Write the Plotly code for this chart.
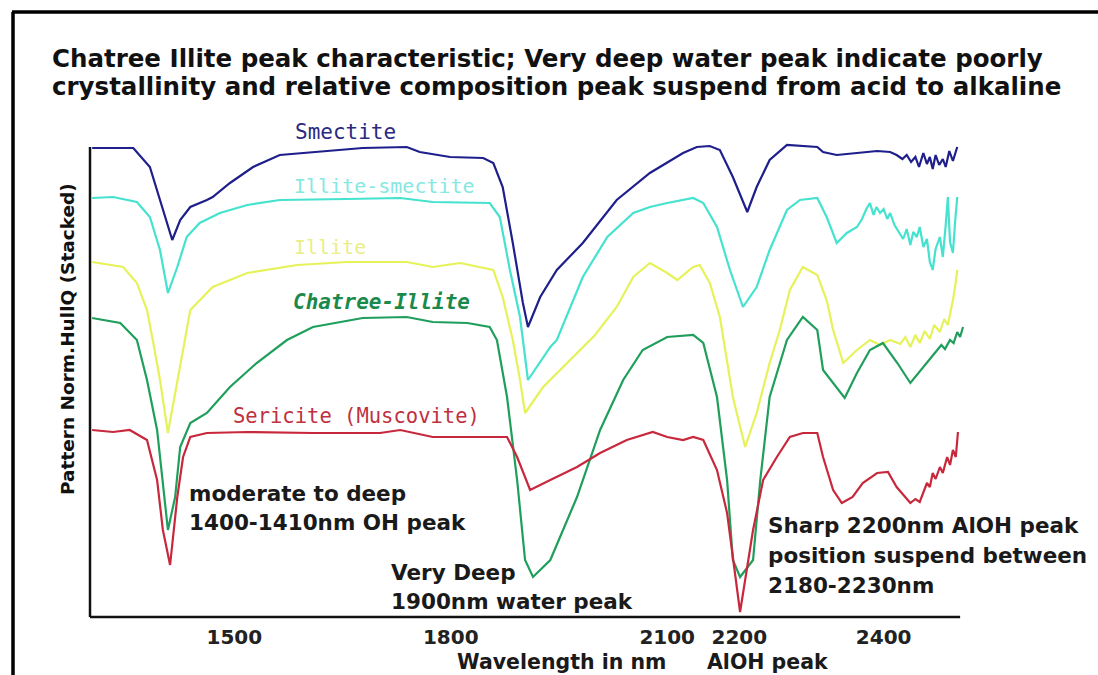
import plotly.graph_objects as go

# ---- spectra (wavelength in nm, stacked hull-quotient values) ----
smectite_wl = [1303, 1360, 1383, 1397, 1414, 1425, 1439, 1462, 1470, 1494, 1526, 1563, 1609, 1678,
               1739, 1757, 1799, 1845, 1859, 1872, 1886, 1900, 1907, 1924, 1947, 1983, 2030, 2076,
               2122, 2141, 2159, 2173, 2191, 2211, 2224, 2242, 2266, 2284, 2308, 2316, 2335, 2363,
               2391, 2409, 2418, 2426, 2432, 2438, 2444, 2449, 2455, 2460, 2464, 2468, 2472, 2477,
               2482, 2486, 2491, 2496, 2502]
smectite_val = [4.69, 4.69, 4.50, 4.17, 3.77, 3.97, 4.10, 4.17, 4.20, 4.34, 4.50, 4.62, 4.65, 4.69,
                4.70, 4.65, 4.60, 4.59, 4.54, 4.30, 3.74, 3.14, 2.90, 3.20, 3.47, 3.74, 4.17, 4.44,
                4.64, 4.70, 4.71, 4.67, 4.40, 4.05, 4.30, 4.57, 4.72, 4.71, 4.70, 4.65, 4.62, 4.64,
                4.66, 4.65, 4.62, 4.58, 4.62, 4.55, 4.60, 4.50, 4.64, 4.53, 4.60, 4.48, 4.62, 4.52,
                4.58, 4.50, 4.66, 4.56, 4.70]

illite_smectite_wl = [1303, 1332, 1365, 1383, 1397, 1408, 1421, 1434, 1452, 1480, 1518, 1563, 1656,
                      1730, 1775, 1854, 1868, 1882, 1896, 1907, 1938, 1947, 1983, 2017, 2053, 2076,
                      2100, 2136, 2150, 2169, 2187, 2205, 2224, 2242, 2266, 2284, 2308, 2321, 2335,
                      2349, 2363, 2370, 2376, 2381, 2386, 2390, 2395, 2400, 2405, 2409, 2415, 2420,
                      2427, 2432, 2437, 2441, 2446, 2450, 2455, 2460, 2464, 2468, 2472, 2478, 2482,
                      2486, 2489, 2492, 2496, 2499, 2502]
illite_smectite_val = [4.19, 4.20, 4.15, 4.00, 3.67, 3.24, 3.50, 3.80, 3.94, 4.04, 4.12, 4.17, 4.18,
                       4.19, 4.15, 4.14, 4.00, 3.47, 3.00, 2.37, 2.70, 2.77, 3.40, 3.80, 4.04, 4.10,
                       4.14, 4.19, 4.14, 3.90, 3.47, 3.10, 3.30, 3.67, 4.07, 4.17, 4.19, 4.00, 3.74,
                       3.84, 3.90, 3.98, 4.08, 4.14, 4.02, 4.10, 4.04, 4.08, 3.98, 4.04, 3.92, 3.86,
                       3.78, 3.88, 3.72, 3.85, 3.80, 3.90, 3.70, 3.78, 3.55, 3.47, 3.68, 3.80, 3.60,
                       3.92, 4.20, 3.75, 3.64, 3.95, 4.20]

illite_wl = [1303, 1346, 1365, 1379, 1387, 1397, 1408, 1421, 1434, 1439, 1470, 1518, 1587, 1656,
             1739, 1775, 1813, 1859, 1872, 1886, 1896, 1903, 1928, 1961, 2000, 2030, 2053, 2076,
             2100, 2114, 2136, 2145, 2159, 2173, 2191, 2208, 2224, 2242, 2256, 2270, 2288, 2308,
             2321, 2330, 2344, 2363, 2381, 2395, 2409, 2423, 2430, 2437, 2444, 2450, 2457, 2464,
             2470, 2478, 2484, 2489, 2493, 2496, 2499, 2502]
illite_val = [3.55, 3.50, 3.34, 3.07, 2.77, 2.37, 1.84, 2.37, 2.87, 3.07, 3.30, 3.44, 3.52, 3.55,
              3.55, 3.50, 3.54, 3.47, 3.20, 2.77, 2.37, 2.04, 2.30, 2.54, 2.82, 3.10, 3.40, 3.54,
              3.44, 3.37, 3.50, 3.52, 3.34, 3.00, 2.20, 1.70, 2.04, 2.54, 2.87, 3.27, 3.50, 3.42,
              3.17, 2.87, 2.54, 2.67, 2.77, 2.72, 2.77, 2.73, 2.80, 2.70, 2.82, 2.74, 2.86, 2.78,
              2.92, 2.85, 2.98, 2.92, 3.05, 3.17, 3.30, 3.47]

chatree_wl = [1303, 1342, 1365, 1379, 1393, 1401, 1408, 1418, 1425, 1439, 1462, 1494, 1531, 1573,
              1609, 1678, 1739, 1775, 1823, 1854, 1864, 1878, 1892, 1903, 1914, 1938, 1975, 2007,
              2039, 2066, 2100, 2136, 2150, 2169, 2183, 2191, 2201, 2219, 2229, 2242, 2266, 2288,
              2308, 2316, 2335, 2346, 2363, 2381, 2399, 2419, 2437, 2455, 2474, 2480, 2485, 2492,
              2497, 2502, 2506, 2510]
chatree_val = [2.99, 2.94, 2.77, 2.37, 1.87, 1.37, 0.87, 1.20, 1.70, 1.94, 2.04, 2.30, 2.54, 2.77,
               2.90, 2.99, 3.00, 2.95, 2.94, 2.90, 2.77, 2.20, 1.37, 0.57, 0.40, 0.57, 1.20, 1.87,
               2.37, 2.67, 2.80, 2.82, 2.74, 2.20, 1.37, 0.57, 0.40, 0.57, 1.37, 2.20, 2.77, 3.00,
               2.87, 2.47, 2.30, 2.19, 2.44, 2.67, 2.74, 2.54, 2.34, 2.50, 2.67, 2.72, 2.68, 2.77,
               2.74, 2.85, 2.80, 2.90]

sericite_wl = [1303, 1332, 1355, 1379, 1393, 1401, 1411, 1421, 1429, 1439, 1462, 1518, 1609, 1702,
               1730, 1775, 1823, 1878, 1892, 1910, 1938, 1975, 2007, 2044, 2080, 2100, 2122, 2136,
               2150, 2169, 2183, 2201, 2219, 2233, 2252, 2270, 2288, 2308, 2316, 2330, 2342, 2357,
               2371, 2391, 2406, 2418, 2437, 2444, 2450, 2455, 2460, 2464, 2468, 2472, 2478, 2482,
               2488, 2492, 2496, 2500, 2503]
sericite_val = [1.87, 1.85, 1.87, 1.77, 1.37, 0.87, 0.52, 1.20, 1.60, 1.80, 1.84, 1.85, 1.84, 1.84,
                1.87, 1.80, 1.80, 1.80, 1.60, 1.27, 1.37, 1.50, 1.64, 1.77, 1.85, 1.80, 1.77, 1.80,
                1.77, 1.47, 1.04, 0.05, 0.87, 1.37, 1.60, 1.80, 1.84, 1.84, 1.60, 1.27, 1.14, 1.20,
                1.34, 1.44, 1.45, 1.30, 1.14, 1.18, 1.15, 1.25, 1.34, 1.30, 1.44, 1.38, 1.50, 1.44,
                1.60, 1.52, 1.67, 1.60, 1.85]

tick_values = [1500, 1800, 2100, 2200, 2400]
tick_labels = ["1500", "1800", "2100", "2200", "2400"]

series = [
    ("Smectite", smectite_wl, smectite_val, "#1f1f8c"),
    ("Illite-smectite", illite_smectite_wl, illite_smectite_val, "#45e2cf"),
    ("Illite", illite_wl, illite_val, "#e6f25a"),
    ("Chatree-Illite", chatree_wl, chatree_val, "#1f9e5c"),
    ("Sericite (Muscovite)", sericite_wl, sericite_val, "#c8283c"),
]

W, H = 1098, 675
SANS = "DejaVu Sans"
MONO = "DejaVu Sans Mono"


def px(x):
    return x / W


def py(y):
    return 1 - y / H


fig = go.Figure()
for name, wl, val, color in series:
    fig.add_trace(go.Scatter(x=wl, y=val, mode="lines", name=name,
                             line=dict(color=color, width=2.2), showlegend=False,
                             hoverinfo="x+y+name"))

# plot area: 1300 nm at x=90 px, 0.7215 px per nm; 0 at y=617 px, 100 px per unit
X0, KX = 1300, 0.7215
xr = [1290, 2520]
yr = [-0.06, 4.80]
fig.update_xaxes(range=xr, domain=[px(90 + (xr[0] - X0) * KX), px(90 + (xr[1] - X0) * KX)],
                 showgrid=False, zeroline=False, showline=False, ticks="",
                 tickvals=tick_values, ticktext=tick_labels,
                 tickfont=dict(family=SANS, size=20, color="#222222", weight="bold"))
fig.update_yaxes(range=yr, domain=[py(617 - yr[0] * 100), py(617 - yr[1] * 100)],
                 showgrid=False, zeroline=False, showline=False, showticklabels=False, ticks="")

# axis lines
fig.add_shape(type="line", xref="x", yref="y", x0=X0, x1=2506, y0=0, y1=0,
              line=dict(color="#111111", width=2.5))
fig.add_shape(type="line", xref="x", yref="y", x0=X0, x1=X0, y0=0, y1=4.70,
              line=dict(color="#111111", width=2.5))

# outer frame
fig.add_shape(type="line", xref="paper", yref="paper", x0=px(13), x1=px(13), y0=py(12), y1=py(680),
              line=dict(color="black", width=3.5))
fig.add_shape(type="line", xref="paper", yref="paper", x0=px(12), x1=px(1100), y0=py(12), y1=py(12),
              line=dict(color="black", width=3.5))


def label(text, x, y, size, color, family=SANS, weight="normal", style="normal",
          anchor="left", angle=0):
    fig.add_annotation(text=text, x=px(x), y=py(y), xref="paper", yref="paper",
                       xanchor=anchor, yanchor="middle", showarrow=False, textangle=angle,
                       font=dict(family=family, size=size, color=color, weight=weight, style=style))


# title
label("Chatree Illite peak characteristic; Very deep water peak indicate poorly",
      50, 58, 24.5, "#111111", weight="bold")
label("crystallinity and relative composition peak suspend from acid to alkaline",
      50, 86, 24.5, "#111111", weight="bold")

# y axis title
label("Pattern Norm.HullQ (Stacked)", 67, 339, 18.5, "#111111", weight="bold",
      anchor="center", angle=-90)

# curve names
label("Smectite", 293, 132, 21, "#2a2a80", family=MONO)
label("Illite-smectite", 292, 186, 20, "#86e8e2", family=MONO)
label("Illite", 292, 247, 20, "#eaee86", family=MONO)
label("Chatree-Illite", 291, 302, 21, "#1a8a4c", family=MONO, weight="bold", style="italic")
label("Sericite (Muscovite)", 231, 416, 20.5, "#c0303f", family=MONO)

# peak notes
note = dict(size=21.5, color="#1a1a1a", weight="bold")
label("moderate to deep", 187, 493, **note)
label("1400-1410nm OH peak", 187, 522, **note)
label("Very Deep", 389, 572, **note)
label("1900nm water peak", 389, 601, **note)
label("Sharp 2200nm AlOH peak", 766, 525, **note)
label("position suspend between", 766, 555, **note)
label("2180-2230nm", 766, 585, **note)

# axis captions
label("Wavelength in nm", 455, 662, 20.5, "#1a1a1a", weight="bold")
label("AlOH peak", 705, 662, 20.5, "#1a1a1a", weight="bold")

fig.update_layout(width=W, height=H, margin=dict(l=0, r=0, t=0, b=0),
                  paper_bgcolor="white", plot_bgcolor="white")

fig.write_html("out.html")
